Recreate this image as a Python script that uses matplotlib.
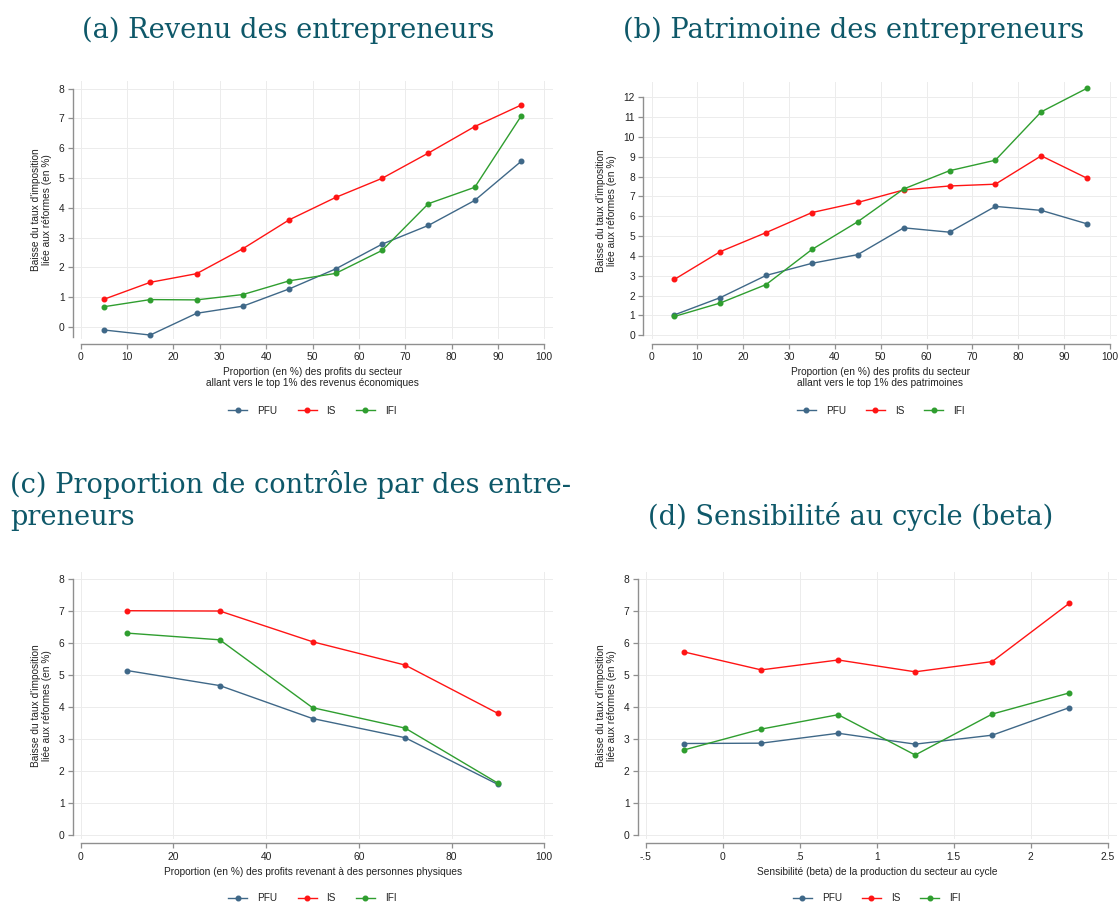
import matplotlib
matplotlib.use('Agg')
import matplotlib.pyplot as plt

W, H = 1118, 905
plt.rcParams['font.family'] = ['Liberation Sans', 'DejaVu Sans']
fig = plt.figure(figsize=(W / 100, H / 100), dpi=100)

series = ['PFU', 'IS', 'IFI']
colors = {'PFU': '#3f6888', 'IS': '#ff1414', 'IFI': '#2f9e2f'}

# ---- data ----
x_a = [5, 15, 25, 35, 45, 55, 65, 75, 85, 95]
pfu_a = [-0.10, -0.27, 0.46, 0.70, 1.28, 1.95, 2.78, 3.41, 4.25, 5.56]
is_a = [0.93, 1.50, 1.79, 2.63, 3.60, 4.35, 4.99, 5.84, 6.73, 7.45]
ifi_a = [0.68, 0.92, 0.91, 1.09, 1.55, 1.80, 2.57, 4.14, 4.69, 7.08]

x_b = [5, 15, 25, 35, 45, 55, 65, 75, 85, 95]
pfu_b = [1.03, 1.90, 3.02, 3.63, 4.07, 5.42, 5.20, 6.50, 6.30, 5.62]
is_b = [2.82, 4.22, 5.18, 6.19, 6.70, 7.33, 7.53, 7.62, 9.05, 7.92]
ifi_b = [0.95, 1.63, 2.56, 4.33, 5.73, 7.38, 8.30, 8.83, 11.27, 12.46]

x_c = [10, 30, 50, 70, 90]
pfu_c = [5.13, 4.66, 3.63, 3.03, 1.57]
is_c = [7.00, 6.99, 6.03, 5.30, 3.79]
ifi_c = [6.30, 6.09, 3.97, 3.33, 1.61]

x_d = [-0.25, 0.25, 0.75, 1.25, 1.75, 2.25]
pfu_d = [2.85, 2.86, 3.17, 2.83, 3.11, 3.97]
is_d = [5.71, 5.15, 5.46, 5.09, 5.41, 7.23]
ifi_d = [2.65, 3.30, 3.75, 2.49, 3.77, 4.43]

xt_pct10 = list(range(0, 101, 10))
xt_pct20 = list(range(0, 101, 20))
xt_beta = [-0.5, 0, 0.5, 1, 1.5, 2, 2.5]
xt_beta_lbl = ['-.5', '0', '.5', '1', '1.5', '2', '2.5']
yt_8 = list(range(0, 9))
yt_12 = list(range(0, 13))

titles = ['(a) Revenu des entrepreneurs',
          '(b) Patrimoine des entrepreneurs',
          '(c) Proportion de contrôle par des entre-\npreneurs',
          '(d) Sensibilité au cycle (beta)']
ylabel = "Baisse du taux d'imposition\nliée aux réformes (en %)"
xlabels = ['Proportion (en %) des profits du secteur\nallant vers le top 1% des revenus économiques',
           'Proportion (en %) des profits du secteur\nallant vers le top 1% des patrimoines',
           'Proportion (en %) des profits revenant à des personnes physiques',
           'Sensibilité (beta) de la production du secteur au cycle']

TXT = '#222222'
AXC = '#8f8f8f'


def panel(box, xref, xref_px, xs, y0_px, ys, x, data, xticks, xtl, yticks,
          xlabel, leg_xy):
    L, R, T, B = box
    ax = fig.add_axes([L / W, 1 - B / H, (R - L) / W, (B - T) / H])
    for name, vals in zip(series, data):
        ax.plot(x, vals, color=colors[name], lw=1.0, marker='o', ms=3.3,
                label=name, clip_on=False, zorder=3)
    ax.set_xlim(xref + (L - xref_px) / xs, xref + (R - xref_px) / xs)
    ax.set_ylim((y0_px - B) / ys, (y0_px - T) / ys)
    ax.set_xticks(xticks)
    ax.set_xticklabels(xtl if xtl else [str(v) for v in xticks])
    ax.set_yticks(yticks)
    ax.grid(True, color='#ececec', lw=0.7)
    ax.set_axisbelow(True)
    for s in ('top', 'right'):
        ax.spines[s].set_visible(False)
    ax.spines['left'].set_color(AXC)
    ax.spines['bottom'].set_color(AXC)
    ax.spines['left'].set_linewidth(1.0)
    ax.spines['bottom'].set_linewidth(1.0)
    ax.spines['bottom'].set_position(('outward', 3.4))
    ax.spines['bottom'].set_bounds(xticks[0], xticks[-1])
    ymin = min(0, min(min(v) for v in data) - 0.06)
    ax.spines['left'].set_bounds(ymin, yticks[-1])
    ax.tick_params(axis='both', direction='out', length=3.3, width=0.9,
                   color=AXC, labelsize=7.4, labelcolor=TXT, pad=2.6)
    ax.set_ylabel(ylabel, fontsize=7.3, color=TXT, labelpad=5, linespacing=1.1)
    ax.set_xlabel(xlabel, fontsize=7.3, color=TXT, labelpad=4, linespacing=1.1)
    ax.legend(loc='center', bbox_to_anchor=(leg_xy[0] / W, 1 - leg_xy[1] / H),
              bbox_transform=fig.transFigure, ncol=3, frameon=False,
              fontsize=7.2, handlelength=1.9, handletextpad=1.0,
              columnspacing=2.0, numpoints=1, labelcolor=TXT)
    return ax


panel((72.7, 553, 80.7, 339), 0, 80.7, 4.636, 327.0, 29.79, x_a,
      [pfu_a, is_a, ifi_a], xt_pct10, None, yt_8, xlabels[0], (312.5, 411))
panel((643.3, 1117, 81.7, 339), 0, 651.5, 4.585, 335.3, 19.83, x_b,
      [pfu_b, is_b, ifi_b], xt_pct10, None, yt_12, xlabels[1], (880.7, 411))
panel((72.7, 553, 571.7, 838.7), 0, 80.7, 4.636, 834.7, 32.0, x_c,
      [pfu_c, is_c, ifi_c], xt_pct20, None, yt_8, xlabels[2], (312.5, 898))
panel((637.7, 1117, 571.7, 838.7), -0.5, 645.7, 154.0, 834.7, 32.0, x_d,
      [pfu_d, is_d, ifi_d], xt_beta, xt_beta_lbl, yt_8, xlabels[3], (876.7, 898))

TCOL = '#0e5869'
tkw = dict(family='DejaVu Serif', fontsize=19.6, color=TCOL, va='baseline')
fig.text(82 / W, 1 - 37.5 / H, titles[0], **tkw)
fig.text(623 / W, 1 - 37.5 / H, titles[1], **tkw)
fig.text(10 / W, 1 - 525 / H, titles[2], linespacing=1.25, **tkw)
fig.text(648 / W, 1 - 525 / H, titles[3], **tkw)

fig.savefig('out.png', dpi=100, facecolor='white')
